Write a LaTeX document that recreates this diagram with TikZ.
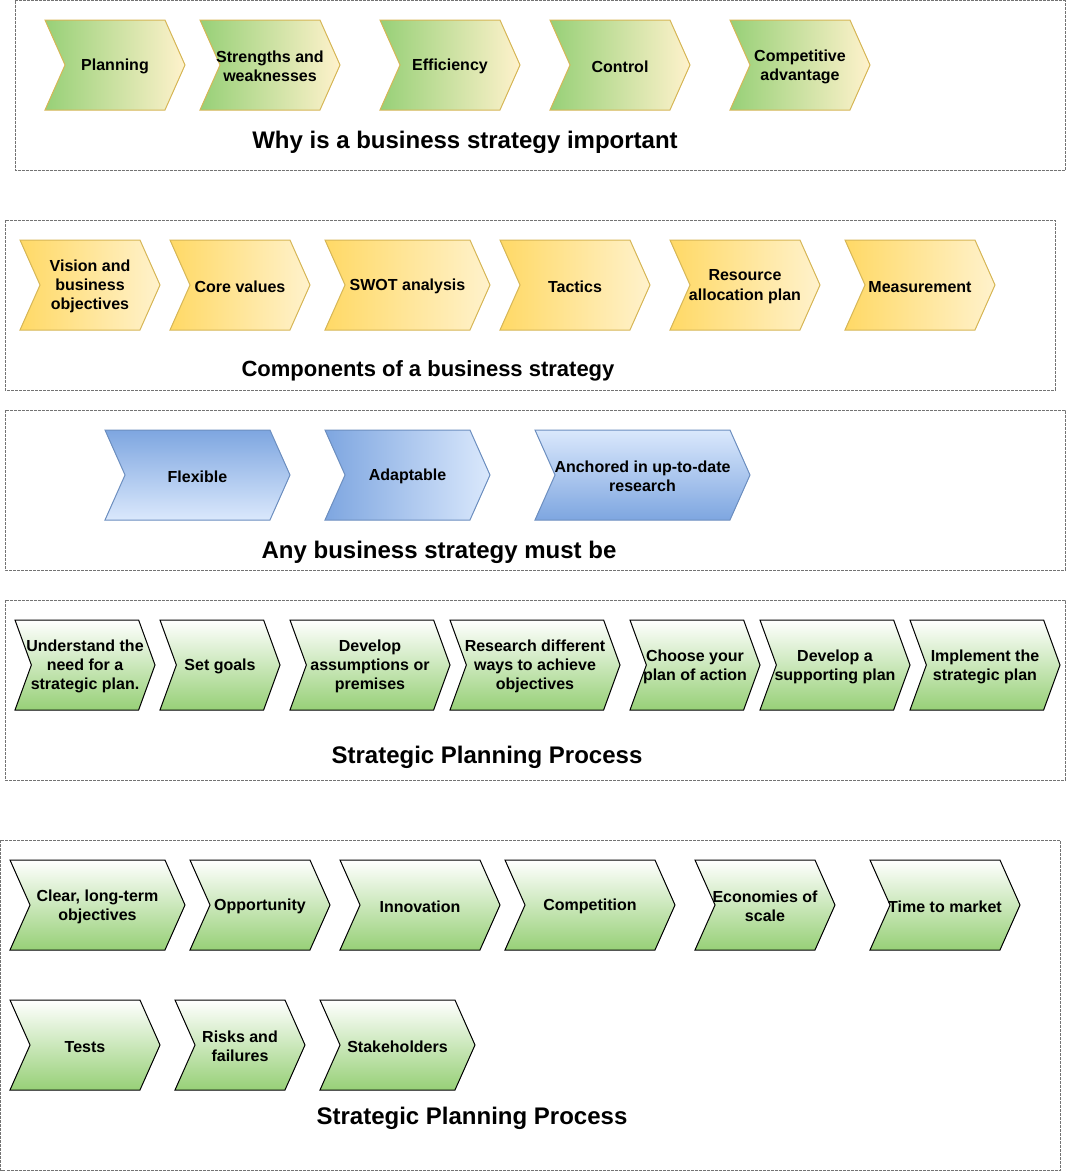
\documentclass[tikz,border=0pt]{standalone}
\usepackage{fontspec}
\setmainfont{Liberation Sans}
\usetikzlibrary{shapes.symbols}

\definecolor{leafGreen}{HTML}{97D077}
\definecolor{paleCream}{HTML}{FFF2CC}
\definecolor{sunGold}{HTML}{FFD966}
\definecolor{goldEdge}{HTML}{D6B656}
\definecolor{skyDark}{HTML}{7EA6E0}
\definecolor{skyLight}{HTML}{DAE8FC}
\definecolor{skyEdge}{HTML}{6C8EBF}

\begin{document}
\begin{tikzpicture}[x=0.75pt, y=-0.75pt,
    chev/.style = {signal,
        signal from=west, signal to=east,
        signal pointer angle=132,
        minimum height=67.5pt,
        minimum width=#1*0.75pt,
        inner sep=0pt, line width=0.75pt},
    lbl/.style = {font=\bfseries\fontsize{12}{14.4}\selectfont,
        align=center, yshift=-1.2pt},
    greenstep/.style = {chev=#1, draw=goldEdge,
        left color=leafGreen, right color=paleCream},
    goldstep/.style = {chev=#1, draw=goldEdge,
        left color=sunGold, right color=paleCream},
    bluestep/.style = {chev=#1, draw=skyEdge},
    planstep/.style = {chev=#1, draw=black,
        signal pointer angle=140,
        top color=white, bottom color=leafGreen},
    title/.style = {font=\bfseries\fontsize{18}{21.6}\selectfont,
        yshift=-1.2pt},
    frame/.style = {draw=black!55, line width=0.75pt,
        dash pattern=on 2.25pt off 0.75pt}]

\useasboundingbox (0,0) rectangle (1066,1171);

% Why is a business strategy important
\draw[frame] (15,0.5) rectangle (1065,170);
\node[greenstep=140,label={[lbl]center:{Planning}}] (plan) at (115,65) {};
\node[greenstep=140,label={[lbl]center:{Strengths and\\weaknesses}}] (strength) at (270,65) {};
\node[greenstep=140,label={[lbl]center:{Efficiency}}] (effic) at (450,65) {};
\node[greenstep=140,label={[lbl]center:{Control}}] (control) at (620,65) {};
\node[greenstep=140,label={[lbl]center:{Competitive\\advantage}}] (advant) at (800,65) {};
\node[title] (whyTitle) at (465,141) {Why is a business strategy important};

% Components of a business strategy
\draw[frame] (5,220) rectangle (1055,390);
\node[goldstep=140,label={[lbl]center:{Vision and\\business\\objectives}}] (vision) at (90,285) {};
\node[goldstep=140,label={[lbl]center:{Core values}}] (core) at (240,285) {};
\node[goldstep=165,label={[lbl]center:{SWOT analysis}}] (swot) at (407.5,285) {};
\node[goldstep=150,label={[lbl]center:{Tactics}}] (tactics) at (575,285) {};
\node[goldstep=150,label={[lbl]center:{Resource\\allocation plan}}] (resource) at (745,285) {};
\node[goldstep=150,label={[lbl]center:{Measurement}}] (measure) at (920,285) {};
\node[title,font=\bfseries\fontsize{16.5}{19.8}\selectfont] (compTitle) at (428,369) {Components of a business strategy};

% Any business strategy must be
\draw[frame] (5,410) rectangle (1065,570);
\node[bluestep=185,top color=skyDark,bottom color=skyLight,
    label={[lbl]center:{Flexible}}] (flexible) at (197.5,475) {};
\node[bluestep=165,left color=skyDark,right color=skyLight,
    label={[lbl]center:{Adaptable}}] (adapt) at (407.5,475) {};
\node[bluestep=215,top color=skyLight,bottom color=skyDark,
    label={[lbl]center:{Anchored in up-to-date\\research}}] (anchor) at (642.5,475) {};
\node[title] (mustTitle) at (439,551) {Any business strategy must be};

% Strategic Planning Process
\draw[frame] (5,600) rectangle (1065,780);
\node[planstep=140,label={[lbl]center:{Understand the\\need for a\\strategic plan.}}] (understand) at (85,665) {};
\node[planstep=120,label={[lbl]center:{Set goals}}] (goals) at (220,665) {};
\node[planstep=160,label={[lbl]center:{Develop\\assumptions or\\premises}}] (assume) at (370,665) {};
\node[planstep=170,label={[lbl]center:{Research different\\ways to achieve\\objectives}}] (research) at (535,665) {};
\node[planstep=130,label={[lbl]center:{Choose your\\plan of action}}] (choose) at (695,665) {};
\node[planstep=150,label={[lbl]center:{Develop a\\supporting plan}}] (support) at (835,665) {};
\node[planstep=150,label={[lbl]center:{Implement the\\strategic plan}}] (implement) at (985,665) {};
\node[title] (procTitle) at (487,756) {Strategic Planning Process};

% Strategic Planning Process (factors)
\draw[frame] (0.5,840) rectangle (1060,1170);
\node[planstep=175,signal pointer angle=132,label={[lbl]center:{Clear, long-term\\objectives}}] (clear) at (97.5,905) {};
\node[planstep=140,signal pointer angle=132,label={[lbl]center:{Opportunity}}] (opport) at (260,905) {};
\node[planstep=160,signal pointer angle=132,label={[lbl]center:{Innovation}}] (innov) at (420,905) {};
\node[planstep=170,signal pointer angle=132,label={[lbl]center:{Competition}}] (compet) at (590,905) {};
\node[planstep=140,signal pointer angle=132,label={[lbl]center:{Economies of\\scale}}] (econ) at (765,905) {};
\node[planstep=150,signal pointer angle=132,label={[lbl]center:{Time to market}}] (market) at (945,905) {};
\node[planstep=150,signal pointer angle=132,label={[lbl]center:{Tests}}] (tests) at (85,1045) {};
\node[planstep=130,signal pointer angle=132,label={[lbl]center:{Risks and\\failures}}] (risks) at (240,1045) {};
\node[planstep=155,signal pointer angle=132,label={[lbl]center:{Stakeholders}}] (stake) at (397.5,1045) {};
\node[title] (proc2Title) at (472,1117) {Strategic Planning Process};

\end{tikzpicture}
\end{document}
